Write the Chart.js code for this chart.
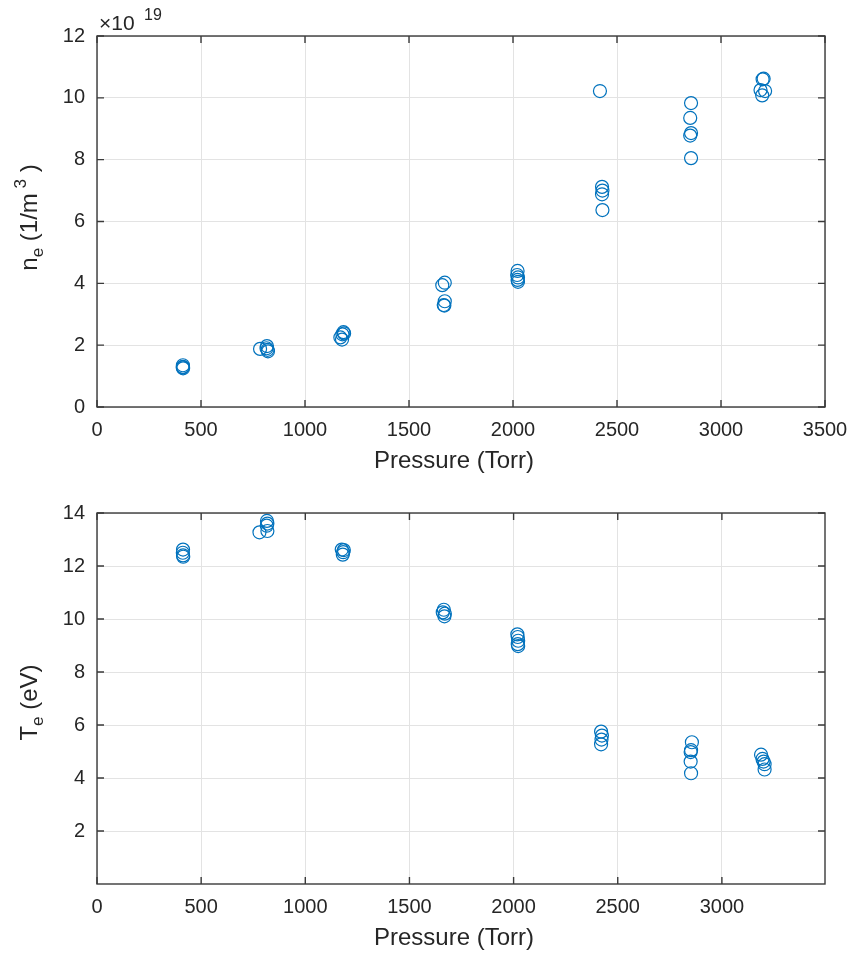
<!DOCTYPE html>
<html>
<head>
<meta charset="utf-8">
<script src="https://cdn.jsdelivr.net/npm/chart.js@4.4.0/dist/chart.umd.min.js"></script>
<style>
  html, body { margin: 0; padding: 0; background: #fff; }
  .panel { position: absolute; left: 0; width: 848px; height: 477px; }
</style>
</head>
<body>
<div class="panel" style="top:0"><canvas id="neChart" width="848" height="477"></canvas></div>
<div class="panel" style="top:477px"><canvas id="teChart" width="848" height="477"></canvas></div>
<script>
// electron density n_e (x 1e19 1/m^3) against pressure
const nePressure = [413, 412, 414, 413,
                    784, 817, 820, 822, 815,
                    1185, 1180, 1170, 1178, 1188,
                    1672, 1660, 1672, 1667, 1670,
                    2022, 2020, 2024, 2022, 2024,
                    2418, 2428, 2430, 2428, 2430,
                    2856, 2852, 2856, 2852, 2856,
                    3200, 3205, 3190, 3198, 3212];
const neValues = [1.35, 1.28, 1.25, 1.30,
                  1.88, 1.97, 1.85, 1.80, 1.90,
                  2.42, 2.35, 2.25, 2.18, 2.38,
                  4.02, 3.94, 3.42, 3.30, 3.28,
                  4.40, 4.27, 4.19, 4.11, 4.05,
                  10.22, 7.12, 7.00, 6.88, 6.37,
                  9.83, 9.35, 8.86, 8.78, 8.05,
                  10.60, 10.62, 10.25, 10.08, 10.22];

// electron temperature T_e (eV) against pressure
const tePressure = [413, 412, 414, 413,
                    780, 816, 818, 815, 818,
                    1175, 1185, 1182, 1180,
                    1665, 1660, 1670, 1668,
                    2018, 2020, 2022, 2020, 2022,
                    2420, 2424, 2422, 2420,
                    2856, 2852, 2850, 2850, 2852,
                    3188, 3195, 3200, 3205, 3205];
const teValues = [12.62, 12.50, 12.35, 12.40,
                  13.27, 13.70, 13.60, 13.52, 13.32,
                  12.62, 12.60, 12.52, 12.43,
                  10.35, 10.25, 10.20, 10.10,
                  9.42, 9.32, 9.18, 9.05, 8.98,
                  5.75, 5.60, 5.45, 5.27,
                  5.35, 5.05, 4.98, 4.62, 4.18,
                  4.88, 4.72, 4.62, 4.52, 4.32];

const neXTicks = [0, 500, 1000, 1500, 2000, 2500, 3000, 3500];
const neYTicks = [0, 2, 4, 6, 8, 10, 12];
const teXTicks = [0, 500, 1000, 1500, 2000, 2500, 3000];
const teYTicks = [2, 4, 6, 8, 10, 12, 14];

const BLUE = '#0072BD';
const AXIS = '#262626';
const GRID = '#e3e3e3';
const FONT = "'Liberation Sans', Arial, sans-serif";

function toPoints(xs, ys) {
  return xs.map((x, i) => ({ x: x, y: ys[i] }));
}

// box around the axes with inward tick marks on all four sides
const boxAxes = {
  id: 'boxAxes',
  afterDraw(chart) {
    const { ctx, chartArea: a, scales } = chart;
    const len = 7;
    ctx.save();
    ctx.strokeStyle = '#3a3a3a';
    ctx.lineWidth = 1.4;
    ctx.strokeRect(a.left, a.top, a.right - a.left, a.bottom - a.top);
    ctx.beginPath();
    scales.x.ticks.forEach(t => {
      const px = scales.x.getPixelForValue(t.value);
      ctx.moveTo(px, a.bottom); ctx.lineTo(px, a.bottom - len);
      ctx.moveTo(px, a.top); ctx.lineTo(px, a.top + len);
    });
    scales.y.ticks.forEach(t => {
      const py = scales.y.getPixelForValue(t.value);
      ctx.moveTo(a.left, py); ctx.lineTo(a.left + len, py);
      ctx.moveTo(a.right, py); ctx.lineTo(a.right - len, py);
    });
    ctx.stroke();
    ctx.restore();
  }
};

// axis titles (y one rotated, with sub/superscripts) plus the exponent note
const richLabels = {
  id: 'richLabels',
  afterDraw(chart, args, opts) {
    const { ctx, chartArea: a } = chart;
    const big = `24px ${FONT}`, small = `17px ${FONT}`;
    ctx.save();
    ctx.fillStyle = AXIS;
    ctx.textBaseline = 'alphabetic';
    ctx.textAlign = 'center';
    ctx.font = big;
    ctx.fillText(opts.xTitle, 454, a.bottom + 61);
    ctx.restore();

    ctx.save();
    ctx.fillStyle = AXIS;
    ctx.textBaseline = 'alphabetic';
    ctx.textAlign = 'left';
    let total = 0;
    opts.segments.forEach(s => {
      ctx.font = (s.sub || s.sup) ? small : big;
      s.w = ctx.measureText(s.text).width;
      total += s.w;
    });
    ctx.translate(37, (a.top + a.bottom) / 2 + (opts.shift || 0));
    ctx.rotate(-Math.PI / 2);
    let x = -total / 2;
    opts.segments.forEach(s => {
      ctx.font = (s.sub || s.sup) ? small : big;
      ctx.fillText(s.text, x, s.sub ? 6 : (s.sup ? -11 : 0));
      x += s.w;
    });
    ctx.restore();

    if (opts.exponent) {
      ctx.save();
      ctx.fillStyle = AXIS;
      ctx.textBaseline = 'alphabetic';
      ctx.font = `21px ${FONT}`;
      ctx.fillText('\u00d710', a.left + 2, a.top - 6);
      ctx.font = `16px ${FONT}`;
      ctx.fillText(opts.exponent, a.left + 47, a.top - 16);
      ctx.restore();
    }
  }
};

function makeChart(id, xs, ys, xTicks, xMax, yTicks, yMin, yMax, labelOpts) {
  return new Chart(id, {
    type: 'scatter',
    data: {
      datasets: [{
        data: toPoints(xs, ys),
        pointStyle: 'circle',
        pointRadius: 6.5,
        pointBorderWidth: 1.2,
        borderColor: BLUE,
        backgroundColor: 'rgba(0,0,0,0)',
        showLine: false
      }]
    },
    options: {
      responsive: false,
      animation: false,
      events: [],
      layout: { padding: { top: 36, right: 23, left: 0, bottom: 0 } },
      plugins: {
        legend: { display: false },
        tooltip: { enabled: false },
        richLabels: labelOpts
      },
      scales: {
        x: {
          type: 'linear',
          min: 0,
          max: xMax,
          afterBuildTicks: s => { s.ticks = xTicks.map(v => ({ value: v })); },
          afterFit: s => { s.height = 70; s.paddingLeft = 0; s.paddingRight = 0; },
          grid: { color: GRID, drawTicks: false },
          border: { display: false },
          ticks: {
            color: AXIS, padding: 11, maxRotation: 0, autoSkip: false,
            font: { size: 20, family: FONT },
            callback: v => String(v)
          }
        },
        y: {
          min: yMin,
          max: yMax,
          afterBuildTicks: s => { s.ticks = yTicks.map(v => ({ value: v })); },
          afterFit: s => { s.width = 97; s.paddingTop = 0; s.paddingBottom = 0; },
          grid: { color: GRID, drawTicks: false },
          border: { display: false },
          ticks: {
            color: AXIS, padding: 12, autoSkip: false,
            font: { size: 20, family: FONT },
            callback: v => String(v)
          }
        }
      }
    },
    plugins: [boxAxes, richLabels]
  });
}

makeChart('neChart', nePressure, neValues, neXTicks, 3500, neYTicks, 0, 12, {
  xTitle: 'Pressure (Torr)',
  segments: [
    { text: 'n' }, { text: 'e', sub: true },
    { text: ' (1/m' }, { text: ' 3', sup: true }, { text: ' )' }
  ],
  shift: -4,
  exponent: '19'
});

makeChart('teChart', tePressure, teValues, teXTicks, 3495, teYTicks, 0, 14, {
  xTitle: 'Pressure (Torr)',
  segments: [
    { text: 'T' }, { text: 'e', sub: true }, { text: ' (eV)' }
  ],
  shift: 4
});
</script>
</body>
</html>
